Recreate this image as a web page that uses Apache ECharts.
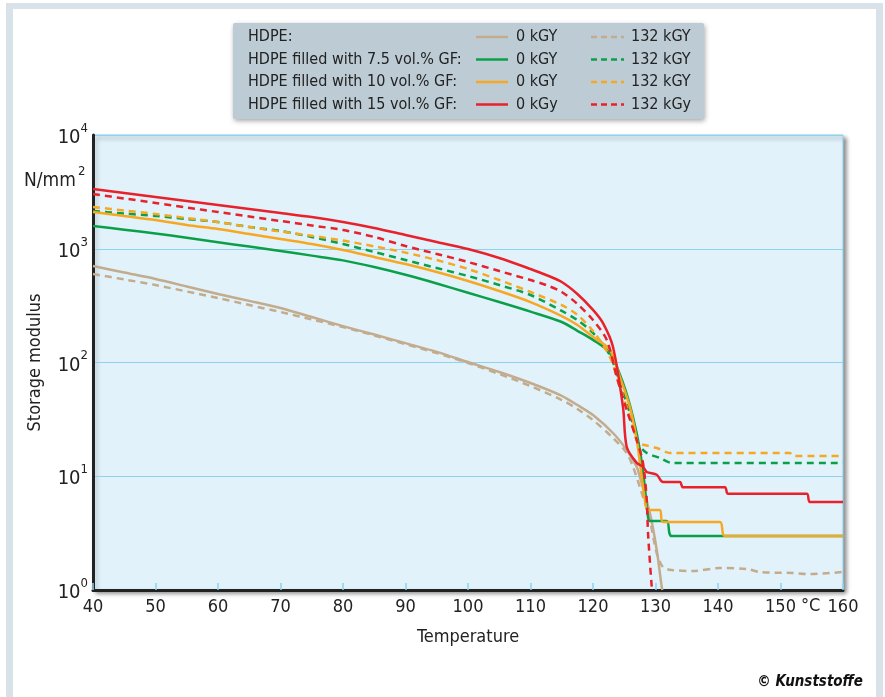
<!DOCTYPE html>
<html>
<head>
<meta charset="utf-8">
<script src="https://cdn.jsdelivr.net/npm/echarts@6/dist/echarts.min.js"></script>
<style>
  html, body { margin: 0; padding: 0; background: #fff; }
  #chart { width: 885px; height: 697px; }
</style>
</head>
<body>
<div id="chart"></div>
<script>
// temperature (°C) and storage modulus (N/mm²)
const hdpe0T = [40, 45, 50, 55, 60, 65, 70, 75, 80, 85, 90, 95, 100, 105, 110, 115, 117.5, 120, 123.2, 125.4, 127, 127.5, 129.1, 130.2, 131, 131.1]
const hdpe0V = [705, 618, 542, 466, 400, 348, 301, 251, 209, 176, 148, 124, 101, 82.5, 66, 51, 42.3, 34.5, 24, 17, 12.1, 9.85, 4.75, 2.25, 1.06, 1.0]

const hdpe132T = [40, 45, 50, 55, 60, 65, 70, 75, 80, 85, 90, 95, 100, 105, 110, 115, 117.5, 120, 123.2, 125.4, 126.4, 127.5, 129.1, 130.2, 131.2, 132.6, 136, 140.3, 144.6, 146.7, 152, 154.2, 160]
const hdpe132V = [600, 537, 480, 421, 369, 320, 278, 239, 205, 173, 145, 121, 99, 79.2, 62, 46.8, 39, 31.2, 21.7, 16, 12.1, 8.04, 4.12, 2.11, 1.59, 1.5, 1.47, 1.56, 1.53, 1.44, 1.41, 1.38, 1.44]

const gf75_0T = [40, 45, 50, 55, 60, 65, 70, 75, 80, 85, 90, 95, 100, 105, 110, 115, 117.5, 120, 122.7, 124.8, 126.4, 127.5, 128.3, 128.8, 129.1, 131.8, 132.6, 160]
const gf75_0V = [1585, 1470, 1360, 1250, 1140, 1045, 955, 870, 790, 690, 590, 495, 410, 340, 280, 227, 190, 158, 121, 66, 33.2, 17, 8.04, 4.38, 4.04, 4.04, 2.98, 2.98]

const gf75_132T = [40, 45, 50, 55, 60, 65, 70, 75, 80, 85, 90, 95, 100, 105, 110, 115, 117.5, 120, 122.7, 124.3, 125.9, 127.2, 128.6, 130.7, 132.6, 160]
const gf75_132V = [2148, 2042, 1942, 1827, 1718, 1552, 1432, 1268, 1101, 936, 797, 677, 576, 480, 392, 284, 236, 182, 116, 66, 36, 19.6, 16.0, 14.5, 13.1, 13.1]

const gf10_0T = [40, 45, 50, 55, 60, 65, 70, 75, 80, 85, 90, 95, 100, 105, 110, 115, 117.5, 120, 122.7, 124.3, 125.9, 127, 127.8, 128.3, 128.8, 130.7, 131.2, 140.3, 141.1, 160]
const gf10_0V = [2104, 1941, 1790, 1617, 1492, 1349, 1219, 1101, 975, 846, 734, 625, 521, 425, 340, 256, 214, 168, 129, 74.6, 40.6, 20.8, 9.85, 6.2, 5.05, 5.05, 3.96, 3.96, 2.98, 2.98]

const gf10_132T = [40, 45, 50, 55, 60, 65, 70, 75, 80, 85, 90, 95, 100, 105, 110, 115, 117.5, 120, 122.7, 124.3, 125.9, 127.2, 128.3, 130.2, 132.3, 151.5, 152, 160]
const gf10_132V = [2328, 2170, 2020, 1862, 1718, 1552, 1420, 1300, 1180, 1050, 925, 795, 664, 531, 417, 320, 262, 189, 112, 60.9, 33.2, 19.6, 18.8, 17.7, 16.0, 16.0, 15.1, 15.1]

const gf15_0T = [40, 45, 50, 55, 60, 65, 70, 75, 80, 85, 90, 95, 100, 105, 110, 112.5, 115, 117.5, 120, 121.6, 123.2, 124.8, 125.4, 127, 128, 128.6, 130.2, 131.2, 133.9, 134.4, 141.1, 141.6, 154.2, 154.7, 160]
const gf15_0V = [3352, 3090, 2851, 2630, 2425, 2236, 2063, 1902, 1719, 1522, 1321, 1146, 995, 830, 664, 588, 510, 400, 290, 222, 137, 40.6, 18.1, 13.1, 12.1, 10.9, 10.3, 8.9, 8.9, 8.0, 8.0, 7.0, 7.0, 5.94, 5.94]

const gf15_132T = [40, 45, 50, 55, 60, 65, 70, 75, 80, 85, 90, 95, 100, 105, 110, 112.5, 115, 117.5, 120, 122.2, 123.8, 125.4, 127, 128, 128.6, 128.8, 129.4, 129.5]
const gf15_132V = [3029, 2767, 2524, 2306, 2104, 1922, 1754, 1601, 1462, 1268, 1057, 900, 765, 637, 531, 480, 417, 327, 236, 158, 74.6, 38.2, 20.8, 13.1, 6.2, 3.2, 1.06, 1.0]

const xTicks = [40, 50, 60, 70, 80, 90, 100, 110, 120, 130, 140, 150, 160]
const legendRows = ['HDPE:', 'HDPE filled with 7.5 vol.% GF:', 'HDPE filled with 10 vol.% GF:', 'HDPE filled with 15 vol.% GF:']
const legendUnit0 = ['0 kGY', '0 kGY', '0 kGY', '0 kGy']
const legendUnit132 = ['132 kGY', '132 kGY', '132 kGY', '132 kGy']

const TAN = '#c3ac8e', GREEN = '#0aa04a', ORANGE = '#f7a823', RED = '#e8212b'
const rowColors = [TAN, GREEN, ORANGE, RED]
const FONT = '"Liberation Sans Narrow", "DejaVu Sans Condensed", sans-serif'
const DASH = [7, 5]

function pts(t, v) {
  return t.map((x, i) => [x, v[i]])
}

function line(name, t, v, color, dashed) {
  return {
    name: name,
    type: 'line',
    data: pts(t, v),
    showSymbol: false,
    symbol: 'none',
    smooth: 0.3,
    clip: true,
    lineStyle: { color: color, width: 2.5, type: dashed ? DASH : 'solid', join: 'round' },
    z: 3
  }
}

const chart = echarts.init(document.getElementById('chart'))

const graphics = [
  // outer frame
  { type: 'rect', shape: { x: 6, y: 3, width: 877, height: 6 }, style: { fill: '#dae2e9' }, silent: true },
  { type: 'rect', shape: { x: 6, y: 3, width: 7, height: 694 }, style: { fill: '#dae2e9' }, silent: true },
  { type: 'rect', shape: { x: 876, y: 3, width: 7, height: 694 }, style: { fill: '#dae2e9' }, silent: true },
  // legend box
  {
    type: 'rect', shape: { x: 233, y: 23, width: 471, height: 96, r: 2 },
    style: { fill: '#bdccd4', shadowBlur: 5, shadowColor: 'rgba(0,0,0,0.35)', shadowOffsetX: 1, shadowOffsetY: 2 },
    z: 10
  },
  // unit label
  { type: 'text', left: 24, top: 172, style: { text: 'N/mm', font: '19px ' + FONT, fill: '#222' }, z: 10 },
  { type: 'text', left: 78, top: 165, style: { text: '2', font: '13px ' + FONT, fill: '#222' }, z: 10 },
  { type: 'text', left: 801, top: 597, style: { text: '°C', font: '18px ' + FONT, fill: '#222' }, z: 10 },
  { type: 'text', right: 22, top: 675, style: { text: '© Kunststoffe', font: 'italic bold 15px ' + FONT, fill: '#111' }, z: 10 }
]

legendRows.forEach(function (label, i) {
  const y = 37 + i * 22.5
  graphics.push({ type: 'text', x: 248, y: y, style: { text: label, font: '16px ' + FONT, fill: '#222', textVerticalAlign: 'middle' }, z: 11 })
  graphics.push({ type: 'line', shape: { x1: 476, y1: y, x2: 508, y2: y }, style: { stroke: rowColors[i], lineWidth: 2.5 }, z: 11 })
  graphics.push({ type: 'text', x: 516, y: y, style: { text: legendUnit0[i], font: '16px ' + FONT, fill: '#222', textVerticalAlign: 'middle' }, z: 11 })
  graphics.push({ type: 'line', shape: { x1: 591, y1: y, x2: 624, y2: y }, style: { stroke: rowColors[i], lineWidth: 2.5, lineDash: [6, 4] }, z: 11 })
  graphics.push({ type: 'text', x: 631, y: y, style: { text: legendUnit132[i], font: '16px ' + FONT, fill: '#222', textVerticalAlign: 'middle' }, z: 11 })
})

const option = {
  animation: false,
  backgroundColor: '#fff',
  textStyle: { fontFamily: FONT },
  grid: {
    left: 93, right: 42, top: 135, bottom: 107,
    show: true,
    backgroundColor: '#e1f2fa',
    borderColor: '#8fd2f0',
    borderWidth: 1,
    shadowColor: 'rgba(0,0,0,0.45)',
    shadowBlur: 4,
    shadowOffsetX: 3,
    shadowOffsetY: 3
  },
  xAxis: {
    type: 'value',
    min: 40,
    max: 160,
    interval: 10,
    name: 'Temperature',
    nameLocation: 'middle',
    nameGap: 38,
    nameTextStyle: { fontSize: 18, color: '#222', fontFamily: FONT },
    axisLine: { show: true, lineStyle: { color: '#222', width: 3 } },
    axisTick: { show: true, inside: true, length: 7, lineStyle: { color: '#8fd2f0', width: 1.5 } },
    axisLabel: {
      fontSize: 18, color: '#222', fontFamily: FONT, margin: 8,
      formatter: function (v) { return xTicks.indexOf(v) >= 0 ? String(v) : '' }
    },
    splitLine: { show: false }
  },
  yAxis: {
    type: 'log',
    logBase: 10,
    min: 1,
    max: 10000,
    name: 'Storage modulus',
    nameLocation: 'middle',
    nameGap: 49,
    nameRotate: 90,
    nameTextStyle: { fontSize: 18, color: '#222', fontFamily: FONT },
    axisLine: { show: true, lineStyle: { color: '#222', width: 3 } },
    axisTick: { show: false },
    minorTick: { show: false },
    axisLabel: {
      color: '#222', margin: 5,
      formatter: function (v) {
        const e = Math.round(Math.log10(v))
        return '{b|10}{s|' + e + '}'
      },
      rich: {
        b: { fontSize: 20, fontFamily: FONT, color: '#222', padding: [6, 0, 0, 0] },
        s: { fontSize: 13, fontFamily: FONT, color: '#222', verticalAlign: 'top', padding: [0, 0, 9, 0] }
      }
    },
    splitLine: { show: true, lineStyle: { color: '#8fd2f0', width: 1 } }
  },
  graphic: graphics,
  series: [
    line('HDPE 0 kGY', hdpe0T, hdpe0V, TAN, false),
    line('HDPE 132 kGY', hdpe132T, hdpe132V, TAN, true),
    line('7.5% GF 0 kGY', gf75_0T, gf75_0V, GREEN, false),
    line('7.5% GF 132 kGY', gf75_132T, gf75_132V, GREEN, true),
    line('10% GF 0 kGY', gf10_0T, gf10_0V, ORANGE, false),
    line('10% GF 132 kGY', gf10_132T, gf10_132V, ORANGE, true),
    line('15% GF 0 kGy', gf15_0T, gf15_0V, RED, false),
    line('15% GF 132 kGy', gf15_132T, gf15_132V, RED, true)
  ]
}

chart.setOption(option)
</script>
</body>
</html>
